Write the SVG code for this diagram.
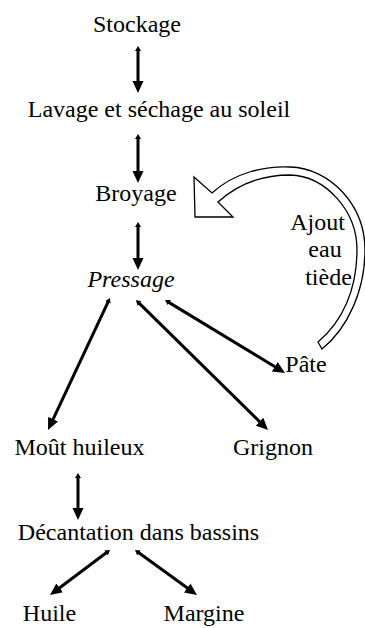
<svg xmlns="http://www.w3.org/2000/svg" width="365" height="628" viewBox="0 0 365 628">
<style>
  .t { font-size: 24px; fill: #000; text-anchor: middle; font-family: "Liberation Serif", "Times New Roman", serif; }
  .it { font-style: italic; }
  .arr { fill: none; stroke: #000; stroke-width: 3; marker-start: url(#head-s); marker-end: url(#head-e); }
  .hollow { fill: #fff; stroke: #000; stroke-width: 1.3; stroke-linejoin: miter; }
</style>
<defs>
  <marker id="head-e" viewBox="0 0 12 12" refX="4" refY="6" markerWidth="12" markerHeight="12" markerUnits="userSpaceOnUse" orient="auto">
    <path d="M0,0.5 L12,6 L0,11.5 z" fill="#000"/>
  </marker>
  <marker id="head-s" viewBox="0 0 6 6" refX="2" refY="3" markerWidth="6" markerHeight="6" markerUnits="userSpaceOnUse" orient="auto-start-reverse">
    <path d="M0,0 L5,3 L0,6 z" fill="#000"/>
  </marker>
</defs>
<rect width="365" height="628" fill="#fff"/>
<g id="connectors">
  <path class="arr" d="M138,49 L138,85"/>
  <path class="arr" d="M138,137 L138,175"/>
  <path class="arr" d="M138,225 L138,262"/>
  <path class="arr" d="M108.7,300.7 L51.4,422.8"/>
  <path class="arr" d="M138.1,302.1 L262.3,424.4"/>
  <path class="arr" d="M167.6,301.6 L278.2,368.8"/>
  <path class="arr" d="M78,476 L78,512"/>
  <path class="arr" d="M107.6,551.8 L56.4,590.2"/>
  <path class="arr" d="M137.4,551.8 L190.5,590.3"/>
  <path id="recycle-arrow" class="hollow" d="M194,177 L195,217 L233,217 L218,202 C240,182 265,175 290,175 C325,176 357,210 357,250 C357,290 342,322 318,342 L322,349 C348,328 365,290 365,250 C365,205 330,168 290,167 C265,166 235,172 212,193 Z"/>
</g>
<g id="stockage"><text class="t" x="137" y="32">Stockage</text></g>
<g id="lavage"><text class="t" x="159" y="117">Lavage et séchage au soleil</text></g>
<g id="broyage"><text class="t" x="136" y="201">Broyage</text></g>
<g id="pressage"><text class="t it" x="131" y="287">Pressage</text></g>
<g id="ajout">
  <text class="t" x="317.5" y="230">Ajout</text>
  <text class="t" x="325" y="257">eau</text>
  <text class="t" x="328.5" y="285">tiède</text>
</g>
<g id="pate"><text class="t" x="306" y="372">Pâte</text></g>
<g id="mout"><text class="t" x="79.5" y="455">Moût huileux</text></g>
<g id="grignon"><text class="t" x="273" y="455">Grignon</text></g>
<g id="decantation"><text class="t" x="138.5" y="540">Décantation dans bassins</text></g>
<g id="huile"><text class="t" x="49.5" y="621">Huile</text></g>
<g id="margine"><text class="t" x="204" y="621">Margine</text></g>
</svg>
